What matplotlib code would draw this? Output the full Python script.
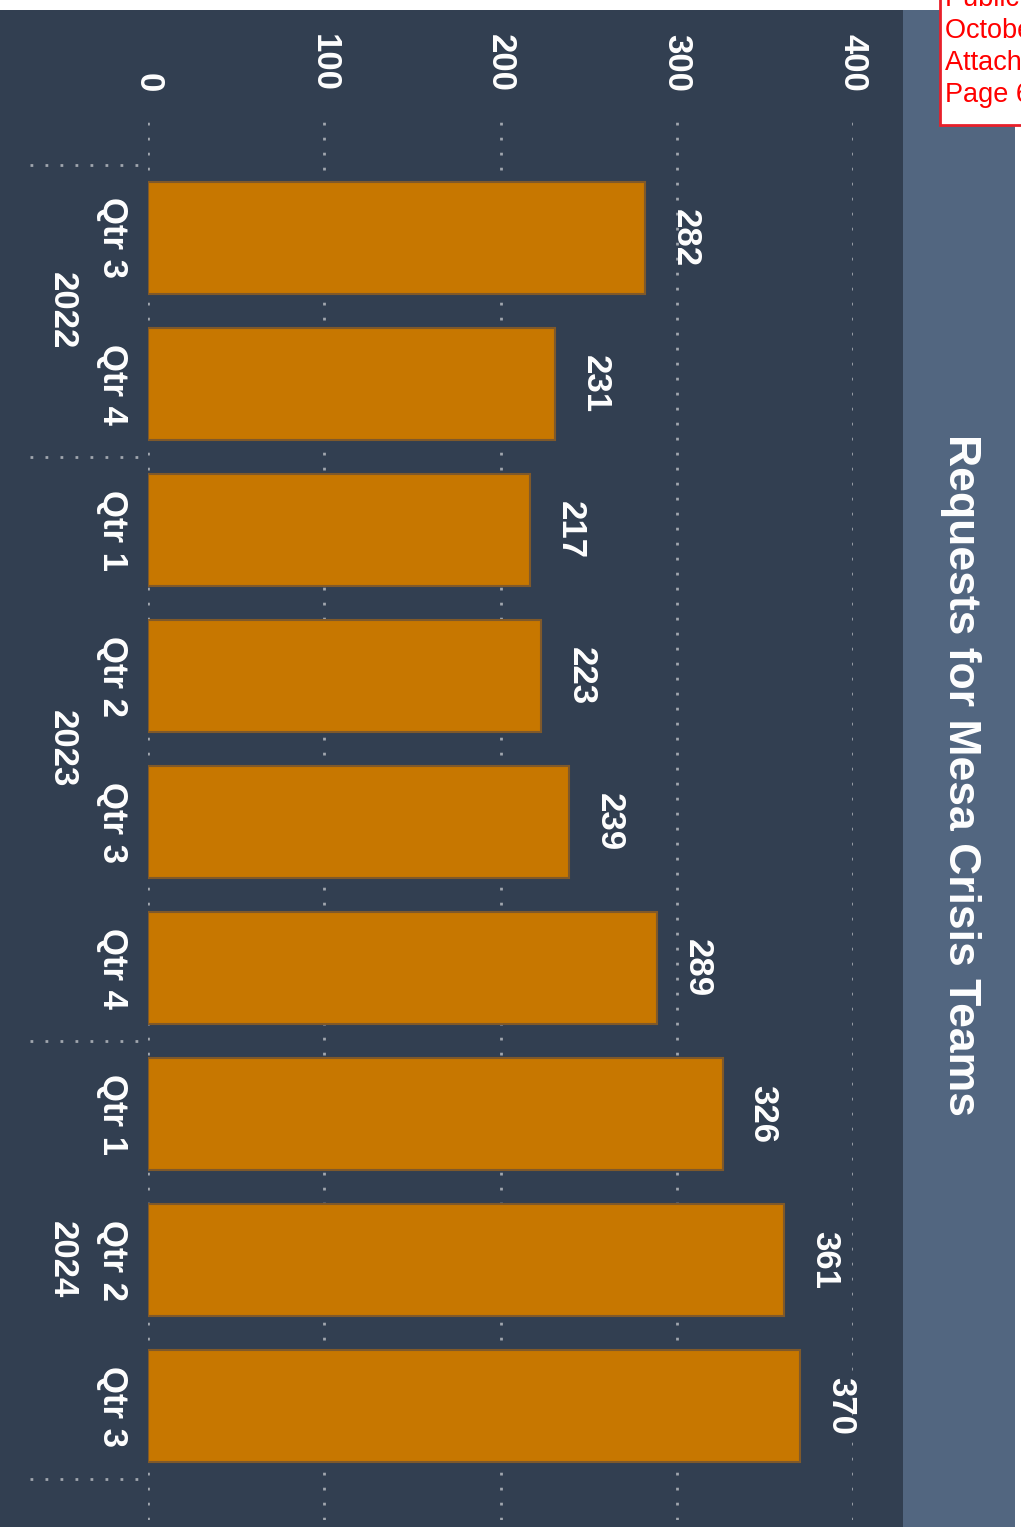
import matplotlib
matplotlib.use("Agg")
import matplotlib.pyplot as plt
from matplotlib.patches import Rectangle
import numpy as np

plt.rcParams['font.family'] = ['Liberation Sans', 'DejaVu Sans']

# data
quarters = ["Qtr 3", "Qtr 4", "Qtr 1", "Qtr 2", "Qtr 3", "Qtr 4", "Qtr 1", "Qtr 2", "Qtr 3"]
years = ["2022", "2022", "2023", "2023", "2023", "2023", "2024", "2024", "2024"]
requests = [282, 231, 217, 223, 239, 289, 326, 361, 370]
xticks = [0, 100, 200, 300, 400]
title = "Requests for Mesa Crisis Teams"
stamp = ["Public Safety Committee", "October 2024", "Attachment 1", "Page 6 of 8"]

W, H = 1021, 1527
DARK = "#323f51"
PANEL = "#526680"
BAR = "#c77700"
EDGE = "#80592a"
GRID = "#a0a6ae"


def fx(px):
    return px / W


def fy(py):
    return 1 - py / H


fig = plt.figure(figsize=(W / 100, H / 100), dpi=100, facecolor="white")

# background panels
fig.patches.append(Rectangle((0, 0), fx(903), fy(10), transform=fig.transFigure,
                             facecolor=DARK, edgecolor="none", zorder=0))
fig.patches.append(Rectangle((fx(903), 0), fx(1015) - fx(903), fy(10), transform=fig.transFigure,
                             facecolor=PANEL, edgecolor="none", zorder=0))

ax = fig.add_axes([fx(148), fy(1520), fx(853) - fx(148), fy(120) - fy(1520)])
ax.set_facecolor("none")
ax.set_zorder(2)

pos = np.arange(len(requests))
ax.barh(pos, requests, height=0.77, color=BAR, edgecolor=EDGE, linewidth=1.5, zorder=3)

ax.set_xlim(0, 400)
ax.set_ylim(8.78, -0.808)
for s in ax.spines.values():
    s.set_visible(False)

ax.xaxis.tick_top()
ax.set_xticks(xticks)
ax.set_xticklabels([str(t) for t in xticks], rotation=-90, fontsize=25,
                   fontweight="bold", color="white")
ax.tick_params(axis="x", length=0, pad=20)
ax.set_yticks([])
ax.grid(axis="x", color=GRID, linestyle=(0, (1.0, 4.4)), linewidth=2, zorder=1)

# value labels
for p, v in zip(pos, requests):
    ax.annotate(str(v), (v, p), xytext=(29, 0), textcoords="offset points",
                rotation=-90, ha="center", va="center", fontsize=25,
                fontweight="bold", color="white", zorder=4)

# category labels
ytr = ax.get_yaxis_transform()
for p, q in zip(pos, quarters):
    ax.text(-0.05, p, q, transform=ytr, rotation=-90, ha="center", va="center",
            fontsize=25, fontweight="bold", color="white")

# year labels and separators
uniq = []
for y in years:
    if y not in uniq:
        uniq.append(y)
bounds = [-0.5]
for y in uniq:
    idx = [i for i, yy in enumerate(years) if yy == y]
    ax.text(-0.121, np.mean(idx), y, transform=ytr, rotation=-90, ha="center",
            va="center", fontsize=25, fontweight="bold", color="white")
    bounds.append(idx[-1] + 0.5)
for b in bounds:
    ax.plot([-0.167, 0], [b, b], transform=ytr, color=GRID,
            linestyle=(0, (1.0, 4.4)), linewidth=2, clip_on=False)

# title
fig.text(fx(960), fy(775), title, rotation=-90, ha="center", va="center",
         fontsize=32, fontweight="bold", color="white")

# red stamp box
fig.patches.append(Rectangle((fx(940), fy(125)), fx(1100) - fx(940), fy(-20) - fy(125),
                             transform=fig.transFigure, facecolor="white",
                             edgecolor="#e8202a", linewidth=2, zorder=5))
for i, line in enumerate(stamp):
    fig.text(fx(945), fy(6 + 32 * i), line, ha="left", va="baseline",
             fontsize=19.5, color="#ff0000", zorder=6)

fig.savefig("out.png", dpi=100, facecolor=fig.get_facecolor())
